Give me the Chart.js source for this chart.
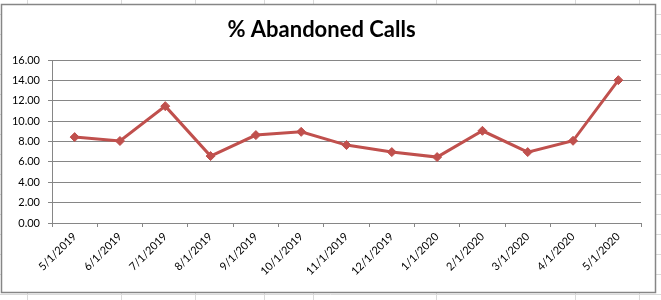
<!DOCTYPE html>
<html>
<head>
<meta charset="utf-8">
<script src="https://cdn.jsdelivr.net/npm/chart.js@4/dist/chart.umd.min.js"></script>
<style>
  html, body { margin: 0; padding: 0; background: #ffffff; }
  #wrap { width: 661px; height: 300px; position: relative; }
</style>
</head>
<body>
<div id="wrap"><canvas id="c" width="661" height="300"></canvas></div>
<script>
const categories = ["5/1/2019","6/1/2019","7/1/2019","8/1/2019","9/1/2019","10/1/2019","11/1/2019","12/1/2019","1/1/2020","2/1/2020","3/1/2020","4/1/2020","5/1/2020"];
const abandonedPct = [8.43, 8.05, 11.47, 6.57, 8.63, 8.95, 7.65, 6.96, 6.47, 9.05, 6.96, 8.07, 14.02];
const chartTitle = "% Abandoned Calls";
const yMin = 0, yMax = 16, yStep = 2;

const gridGrey = '#868686';
const sheetLine = '#dadada';

// Spreadsheet background + chart frame (decoration only)
const sheetBackground = {
  id: 'sheetBackground',
  beforeDraw(chart) {
    const ctx = chart.ctx;
    ctx.save();
    ctx.fillStyle = '#ffffff';
    ctx.fillRect(0, 0, 661, 300);
    ctx.strokeStyle = sheetLine;
    ctx.lineWidth = 1;
    const cols = [27, 121, 195, 264, 313, 436, 575, 639];
    cols.forEach(x => {
      ctx.beginPath(); ctx.moveTo(x + 0.5, 0); ctx.lineTo(x + 0.5, 300); ctx.stroke();
    });
    for (let y = 14; y < 300; y += 20) {
      ctx.beginPath(); ctx.moveTo(0, y + 0.5); ctx.lineTo(661, y + 0.5); ctx.stroke();
    }
    ctx.fillStyle = '#ffffff';
    ctx.fillRect(1, 4, 655, 289);
    ctx.strokeStyle = gridGrey;
    ctx.lineWidth = 1.5;
    ctx.strokeRect(1.5, 4.5, 654, 288);
    ctx.restore();
  }
};

new Chart(document.getElementById('c'), {
  type: 'line',
  data: {
    labels: categories,
    datasets: [{
      label: chartTitle,
      data: abandonedPct,
      borderColor: '#C0504D',
      backgroundColor: '#C0504D',
      borderWidth: 3,
      tension: 0,
      pointStyle: 'rectRot',
      pointRadius: 4.5,
      pointHoverRadius: 4.5,
      pointBackgroundColor: '#C0504D',
      pointBorderColor: '#C0504D',
      pointBorderWidth: 1
    }]
  },
  options: {
    responsive: false,
    animation: false,
    devicePixelRatio: 1,
    layout: { padding: { left: 2, right: 20, top: 5, bottom: 8 } },
    plugins: {
      legend: { display: false },
      tooltip: { enabled: false },
      title: {
        display: true,
        text: chartTitle,
        color: '#000000',
        font: { family: 'Lato', size: 22, weight: 'bold', lineHeight: 1.2 },
        padding: { top: 12, bottom: 16.6 }
      }
    },
    scales: {
      x: {
        offset: true,
        afterFit(scale) { scale.height = 69; },
        grid: {
          display: true,
          offset: true,
          drawOnChartArea: false,
          drawTicks: true,
          tickLength: 4,
          color: gridGrey
        },
        border: { display: true, color: gridGrey, width: 1 },
        ticks: {
          autoSkip: false,
          minRotation: 45,
          maxRotation: 45,
          padding: 3,
          color: '#000000',
          font: { family: 'Lato', size: 11 }
        }
      },
      y: {
        min: yMin,
        max: yMax,
        afterFit(scale) { scale.width = 50; },
        grid: {
          color: gridGrey,
          drawTicks: true,
          tickLength: 4,
          lineWidth: 1
        },
        border: { display: true, color: gridGrey, width: 1 },
        ticks: {
          stepSize: yStep,
          padding: 8,
          color: '#000000',
          font: { family: 'Lato', size: 11 },
          callback: v => Number(v).toFixed(2)
        }
      }
    }
  },
  plugins: [sheetBackground]
});
</script>
</body>
</html>
